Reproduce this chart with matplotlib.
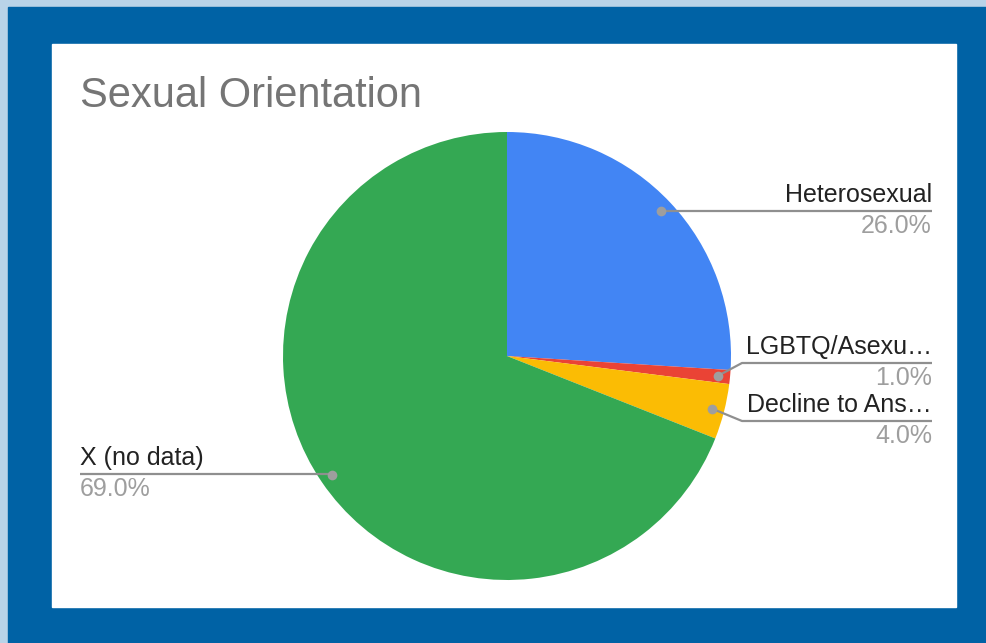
import matplotlib
matplotlib.use("Agg")
import numpy as np
import matplotlib.pyplot as plt
from matplotlib.patches import Rectangle

labels = ["Heterosexual", "LGBTQ/Asexu\u2026", "Decline to Ans\u2026", "X (no data)"]
shares = [26.0, 1.0, 4.0, 69.0]
colors = ["#4285F4", "#EA4335", "#FBBC04", "#34A853"]
title = "Sexual Orientation"

W, H = 986, 643


def py(y):
    # pixel rows run downward, data y runs upward
    return H - y


def draw_label(ax, text, pct, dot, elbow, x_end, y_line, right=True):
    xs = [dot[0], elbow[0], x_end]
    ys = [py(dot[1]), py(elbow[1]), py(y_line)]
    ax.plot(xs, ys, color="#8f8f8f", lw=1.6, solid_capstyle="butt", zorder=4)
    ax.plot(dot[0], py(dot[1]), "o", ms=7, color="#9e9e9e", mec="none", zorder=5)
    ha = "right" if right else "left"
    ax.text(x_end, py(y_line - 9), text, ha=ha, va="baseline", fontsize=18,
            color="#222222", family="Liberation Sans")
    ax.text(x_end, py(y_line + 22), pct, ha=ha, va="baseline", fontsize=18,
            color="#9e9e9e", family="Liberation Sans")


fig = plt.figure(figsize=(W / 100, H / 100), dpi=100)
fig.patch.set_facecolor("#B9D3E8")
ax = fig.add_axes([0, 0, 1, 1])

# frame: dark blue border and white card
ax.add_patch(Rectangle((8, 0), W - 8, H - 7, color="#0062A5", zorder=0))
ax.add_patch(Rectangle((52, py(607)), 956 - 52, 607 - 44, color="white", zorder=1))

cx, cy, r = 507, py(356), 224
wedges, _ = ax.pie(shares, colors=colors, startangle=90, counterclock=False,
                   center=(cx, cy), radius=r, frame=True,
                   wedgeprops=dict(linewidth=0, zorder=2))
for w in wedges:
    w.set_zorder(2)

# label anchors sit on each slice's mid angle
cum = np.cumsum([0] + shares)
mids = (cum[:-1] + cum[1:]) / 2 / 100 * 360
dots = []
for m in mids:
    a = np.deg2rad(m)
    dots.append((cx + 0.945 * r * np.sin(a), py(cy + 0.945 * r * np.cos(a))))

pcts = ["%.1f%%" % s for s in shares]
draw_label(ax, labels[0], pcts[0], dots[0], (dots[0][0], 211), 932, 211)
draw_label(ax, labels[1], pcts[1], dots[1], (742, 363), 932, 363)
draw_label(ax, labels[2], pcts[2], dots[2], (742, 421), 932, 421)
draw_label(ax, labels[3], pcts[3], dots[3], (dots[3][0], 474), 80, 474, right=False)

ax.text(80, py(107), title, ha="left", va="baseline", fontsize=30,
        color="#757575", family="Liberation Sans")

ax.set_xlim(0, W)
ax.set_ylim(0, H)
ax.set_aspect("equal")
ax.axis("off")

fig.savefig("out.png", dpi=100, facecolor=fig.get_facecolor())
